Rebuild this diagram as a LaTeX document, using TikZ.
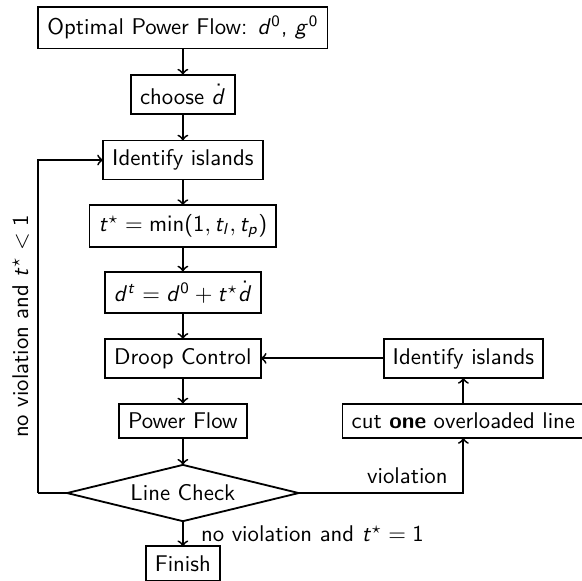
\documentclass[tikz,border=0pt]{standalone}
\usepackage{amsmath,amssymb}
\renewcommand{\familydefault}{\sfdefault}
% sans serif letters and digits in math
\DeclareSymbolFont{operators}{OT1}{cmss}{m}{n}
\DeclareSymbolFont{sfit}{OT1}{cmss}{m}{sl}
\DeclareMathSymbol{d}{\mathalpha}{sfit}{`d}
\DeclareMathSymbol{g}{\mathalpha}{sfit}{`g}
\DeclareMathSymbol{t}{\mathalpha}{sfit}{`t}
\DeclareMathSymbol{l}{\mathalpha}{sfit}{`l}
\DeclareMathSymbol{p}{\mathalpha}{sfit}{`p}
\usetikzlibrary{shapes.geometric}

\begin{document}
\begin{tikzpicture}[font=\sffamily, thick, >=to, x=0.955cm, y=0.955cm,
    every node/.style={inner sep=4pt,outer sep=0pt},
    box/.style={draw, rectangle},
    test/.style={draw, diamond, aspect=4.1, inner sep=0pt, minimum width=3.58cm, minimum height=0.87cm}]
      \useasboundingbox (0,0) rectangle (9.42,-9.40);

      \draw (2.96,-0.45) node[box] (opf) {Optimal Power Flow: $d^0$, $g^0$};
      \draw (2.96,-1.53) node[box] (choose) {choose $\dot{d}$};
      \draw (2.96,-2.59) node[box] (islands) {Identify islands};
      \draw (2.96,-3.66) node[box] (tstar) {$t^\star = \min(1, t_l, t_p)$};
      \draw (2.96,-4.73) node[box] (dt) {$d^t = d^0 + t^\star \dot{d}$};
      \draw (2.96,-5.80) node[box] (droop) {Droop Control};
      \draw (2.96,-6.81) node[box] (pf) {Power Flow};
      \draw (2.96,-7.98) node[test] (check) {Line Check};
      \draw (2.96,-9.12) node[box] (finish) {Finish};
      \draw (7.50,-5.80) node[box] (islands2) {Identify islands};
      \draw (7.50,-6.81) node[box] (cut) {cut \textbf{one} overloaded line};
      \coordinate (back) at (0.615,-7.98);

      \draw[->] (opf) -- (choose);
      \draw[->] (choose) -- (islands);
      \draw[->] (islands) -- (tstar);
      \draw[->] (tstar) -- (dt);
      \draw[->] (dt) -- (droop);
      \draw[->] (droop) -- (pf);
      \draw[->] (pf) -- (check);
      \draw[->] (check) -- node[right, xshift=4pt] {no violation and $t^\star = 1$} (finish);

      \draw[->] (check.east) -| node[above, pos=0.33] {violation} (cut);
      \draw[->] (cut) -- (islands2);
      \draw[->] (islands2) -- (droop);

      \draw (check.west) -- (back);
      \draw[->] (back) -- node[midway, above, sloped] (nolabel) {no violation and $t^\star < 1$} (back |- islands) -- (islands);
    \end{tikzpicture}
\end{document}
